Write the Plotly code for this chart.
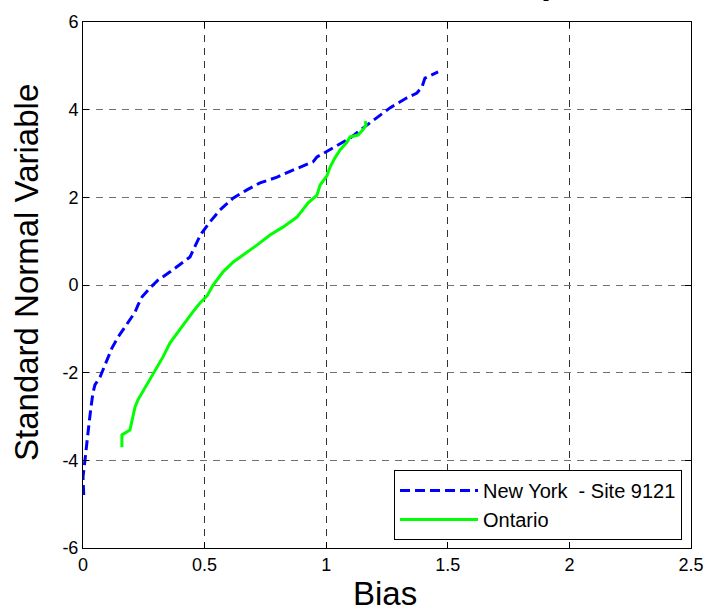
import plotly.graph_objects as go

# Bias vs standard normal variable (probability plot) for two sites
ny_bias = [0.003, 0.0, 0.008, 0.016, 0.025, 0.033, 0.041, 0.049, 0.070, 0.082,
           0.103, 0.119, 0.144, 0.164, 0.193, 0.214, 0.226, 0.243, 0.275, 0.308,
           0.358, 0.411, 0.440, 0.473, 0.489, 0.522, 0.563, 0.617, 0.674, 0.728,
           0.798, 0.863, 0.946, 0.962, 1.028, 1.098, 1.151, 1.209, 1.262, 1.332,
           1.373, 1.394, 1.406, 1.460]
ny_snv = [-4.79, -4.38, -4.00, -3.54, -3.15, -2.78, -2.46, -2.28, -2.10, -1.94,
          -1.67, -1.44, -1.19, -1.03, -0.80, -0.62, -0.46, -0.27, -0.07, 0.11,
          0.30, 0.52, 0.64, 1.03, 1.19, 1.44, 1.71, 1.98, 2.17, 2.33,
          2.46, 2.62, 2.81, 2.92, 3.13, 3.35, 3.58, 3.83, 4.04, 4.27,
          4.38, 4.52, 4.72, 4.86]

on_bias = [0.160, 0.160, 0.193, 0.201, 0.214, 0.226, 0.243, 0.275, 0.304, 0.329,
           0.358, 0.387, 0.411, 0.448, 0.481, 0.510, 0.535, 0.576, 0.617, 0.658,
           0.715, 0.769, 0.822, 0.880, 0.925, 0.962, 0.975, 1.003, 1.016, 1.036,
           1.057, 1.086, 1.098, 1.131, 1.151, 1.164, 1.160]
on_snv = [-3.70, -3.42, -3.31, -3.08, -2.78, -2.62, -2.46, -2.17, -1.87, -1.64,
          -1.32, -1.10, -0.91, -0.64, -0.41, -0.25, 0.00, 0.30, 0.52, 0.68,
          0.91, 1.14, 1.32, 1.55, 1.87, 2.05, 2.28, 2.49, 2.69, 2.90,
          3.08, 3.26, 3.38, 3.42, 3.54, 3.65, 3.74]

x_ticks = [0, 0.5, 1, 1.5, 2, 2.5]
x_tick_text = ["0", "0.5", "1", "1.5", "2", "2.5"]
y_ticks = [-6, -4, -2, 0, 2, 4, 6]
y_tick_text = ["-6", "-4", "-2", "0", "2", "4", "6"]

FONT = "Arial, Liberation Sans, Helvetica, sans-serif"

# axes box in pixels
L, R, T, B = 83, 16, 22, 67
W, H = 707, 615
PW, PH = W - L - R, H - T - B


def px_x(px):
    return (px - L) / PW


def px_y(py):
    return (H - B - py) / PH


fig = go.Figure()
fig.add_trace(go.Scatter(
    x=ny_bias, y=ny_snv, mode="lines", name="New York  - Site 9121",
    line=dict(color="rgb(0,0,255)", width=3, dash="10px,5px"),
))
fig.add_trace(go.Scatter(
    x=on_bias, y=on_snv, mode="lines", name="Ontario",
    line=dict(color="rgb(0,255,0)", width=3),
))

axis_common = dict(
    showline=True, linecolor="black", linewidth=1, mirror="ticks",
    ticks="inside", ticklen=6, tickcolor="black",
    showgrid=True, gridwidth=1, griddash="7px,6px",
    zeroline=False, tickfont=dict(size=18), automargin=False,
)

fig.update_layout(
    width=W, height=H,
    margin=dict(l=L, r=R, t=T, b=B),
    paper_bgcolor="white", plot_bgcolor="white",
    font=dict(family=FONT, color="black", size=18),
    showlegend=True,
    legend=dict(
        x=px_x(682), y=px_y(540), xanchor="right", yanchor="bottom",
        bgcolor="white", bordercolor="black", borderwidth=1,
        font=dict(size=20, family=FONT), tracegroupgap=2,
        itemwidth=78,
    ),
    xaxis=dict(range=[0, 2.5], tickvals=x_ticks, ticktext=x_tick_text,
               gridcolor="#333333", **axis_common),
    yaxis=dict(range=[-6, 6], tickvals=y_ticks, ticktext=y_tick_text,
               gridcolor="#707070", **axis_common),
)

# axis titles
fig.add_annotation(
    text="Bias", xref="paper", yref="paper", x=px_x(385), y=px_y(593),
    xanchor="center", yanchor="middle", showarrow=False,
    font=dict(size=33, family=FONT, color="black"),
)
fig.add_annotation(
    text="Standard Normal Variable", xref="paper", yref="paper",
    x=px_x(26), y=px_y(273), xanchor="center", yanchor="middle",
    textangle=-90, showarrow=False,
    font=dict(size=33, family=FONT, color="black"),
)

# Title line sitting above the axes box
fig.add_annotation(
    text="<b>Bias Comparison</b>", xref="paper", yref="paper",
    x=px_x(373), y=px_y(3), xanchor="left", yanchor="bottom",
    showarrow=False, font=dict(size=36, family=FONT, color="black"),
)

fig.write_html("out.html")
